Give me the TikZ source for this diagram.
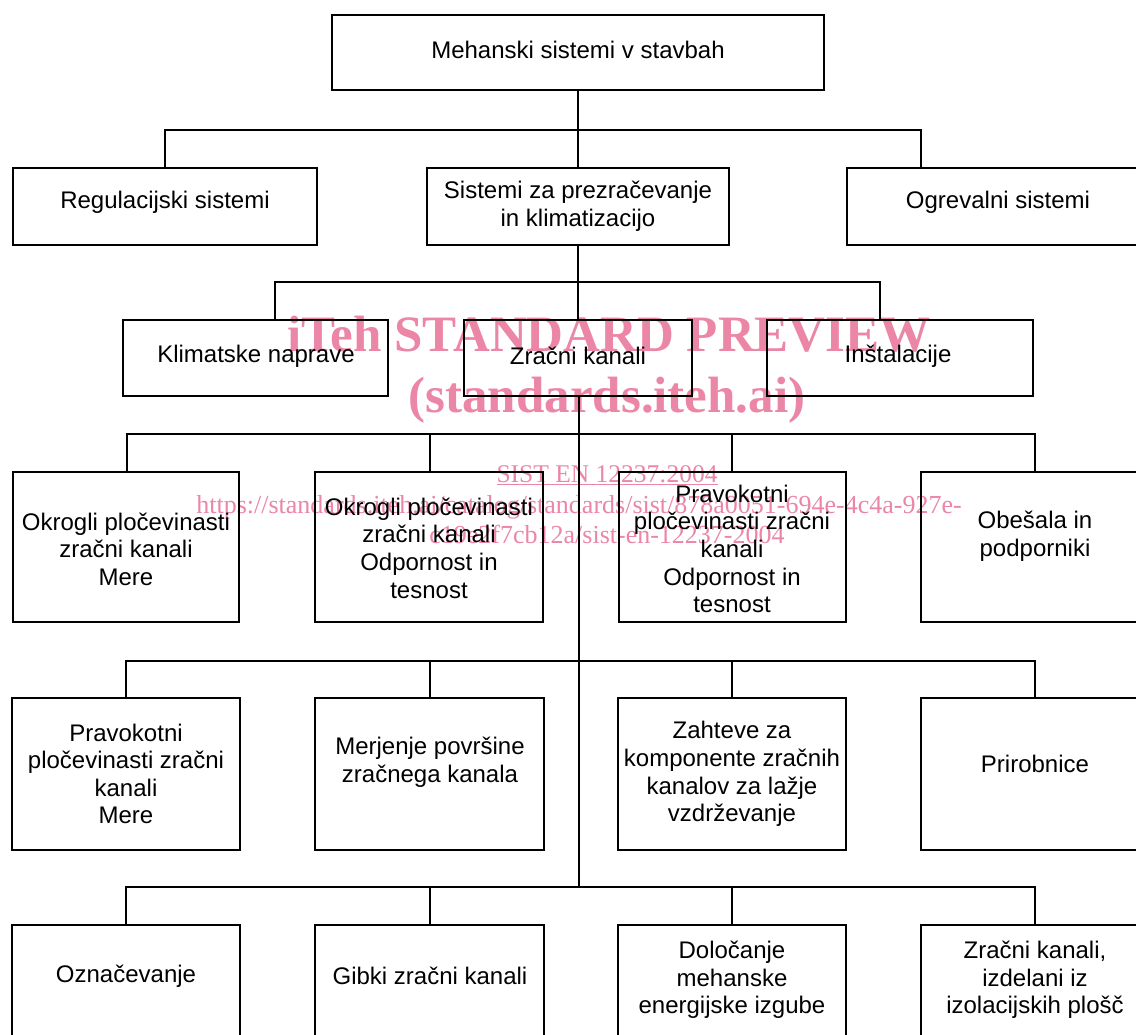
\documentclass[tikz,border=0pt]{standalone}
\usepackage{fontspec}
\setmainfont{Liberation Sans}
\newfontfamily\wmfont{Liberation Serif}
\definecolor{wmpink}{RGB}{236,134,166}
\tikzset{
  box/.style={draw=black, line width=2.9pt, inner sep=0pt},
  txt/.style={align=center, inner sep=0pt, font=\fontsize{24}{27.6}\selectfont},
  conn/.style={draw=black, line width=2.9pt, line cap=rect},
  wm/.style={text=wmpink, inner sep=0pt, anchor=base},
}
\newcommand{\bx}[5]{% name, left, top, right, bottom
  \node[box, minimum width={(#4-#2)*1pt}, minimum height={(#5-#3)*1pt}] (#1) at ({(#2+#4)/2},{(#3+#5)/2}) {};}
\begin{document}
\begin{tikzpicture}[x=1pt,y=-1pt]
\useasboundingbox (0,0) rectangle (1136,1035);
\clip (0,0) rectangle (1136,1035);
\fill[white] (0,0) rectangle (1136,1035);

% watermark
\node[wm, font=\wmfont\bfseries\fontsize{51}{60}\selectfont] (wm1) at (609,352) {iTeh STANDARD PREVIEW};
\node[wm, font=\wmfont\bfseries\fontsize{51}{60}\selectfont] (wm2) at (607,412) {(standards.iteh.ai)};
\node[wm, font=\wmfont\fontsize{25.5}{30}\selectfont] (wm3) at (607,482) {\underline{SIST EN 12237:2004}};
\node[wm, font=\wmfont\fontsize{26}{30}\selectfont] (wm4) at (579,513) {https://standards.iteh.ai/catalog/standards/sist/878a0051-694e-4c4a-927e-};
\node[wm, font=\wmfont\fontsize{26}{30}\selectfont] (wm5) at (607,543) {c19e2f7cb12a/sist-en-12237-2004};

% boxes
\bx{root}{332}{15}{824}{90}
\bx{reg}{13}{168}{317}{245}
\bx{sis}{427}{168}{729}{245}
\bx{ogr}{847}{168}{1151}{245}
\bx{kli}{123}{320}{388}{396}
\bx{zra}{464}{320}{692}{396}
\bx{ins}{767}{320}{1033}{396}
\bx{a1}{13}{472}{239}{622}
\bx{a2}{315}{472}{543}{622}
\bx{a3}{619}{472}{846}{622}
\bx{a4}{921}{472}{1149}{622}
\bx{b1}{12}{698}{240}{850}
\bx{b2}{315}{698}{544}{850}
\bx{b3}{618}{698}{846}{850}
\bx{b4}{921}{698}{1149}{850}
\bx{c1}{12}{925}{240}{1080}
\bx{c2}{315}{925}{544}{1080}
\bx{c3}{618}{925}{846}{1080}
\bx{c4}{921}{925}{1149}{1080}

% texts
\node[txt] (troot) at (578,50) {Mehanski sistemi v stavbah};
\node[txt] (treg) at (165,202) {Regulacijski sistemi};
\node[txt] (tsis) at (578,206) {Sistemi za prezračevanje\\in klimatizacijo};
\node[txt] (togr) at (998,202) {Ogrevalni sistemi};
\node[txt] (tkli) at (256,356) {Klimatske naprave};
\node[txt] (tzra) at (578,356) {Zračni kanali};
\node[txt] (tins) at (898,356) {Inštalacije};
\node[txt] (ta1) at (126,549) {Okrogli pločevinasti\\zračni kanali\\Mere};
\node[txt] (ta2) at (429,548) {Okrogli pločevinasti\\zračni kanali\\Odpornost in\\tesnost};
\node[txt] (ta3) at (732,549) {Pravokotni\\pločevinasti zračni\\kanali\\Odpornost in\\tesnost};
\node[txt] (ta4) at (1035,536) {Obešala in\\podporniki};
\node[txt] (tb1) at (126,774) {Pravokotni\\pločevinasti zračni\\kanali\\Mere};
\node[txt] (tb2) at (430,762) {Merjenje površine\\zračnega kanala};
\node[txt] (tb3) at (732,774) {Zahteve za\\komponente zračnih\\kanalov za lažje\\vzdrževanje};
\node[txt] (tb4) at (1035,764) {Prirobnice};
\node[txt] (tc1) at (126,976) {Označevanje};
\node[txt] (tc2) at (430,976) {Gibki zračni kanali};
\node[txt] (tc3) at (732,980) {Določanje\\mehanske\\energijske izgube};
\node[txt] (tc4) at (1035,980) {Zračni kanali,\\izdelani iz\\izolacijskih plošč};

% bus coordinates
\coordinate (b1l) at (165,130);
\coordinate (b1m) at (578,130);
\coordinate (b1r) at (921,130);
\coordinate (b2l) at (275,282);
\coordinate (b2m) at (578,282);
\coordinate (b2r) at (880,282);
\coordinate (b3l) at (127,434);
\coordinate (b3m) at (579,434);
\coordinate (b3r) at (1035,434);
\coordinate (b4l) at (126,661);
\coordinate (b4m) at (579,661);
\coordinate (b4r) at (1035,661);
\coordinate (b5l) at (126,887);
\coordinate (b5m) at (579,887);
\coordinate (b5r) at (1035,887);

% connectors
\draw[conn] (root.south -| b1m) -- (sis.north -| b1m);
\draw[conn] (reg.north) -- (b1l) -- (b1r) -- (b1r |- ogr.north);
\draw[conn] (sis.south -| b2m) -- (zra.north -| b2m);
\draw[conn] (b2l |- kli.north) -- (b2l) -- (b2r) -- (b2r |- ins.north);
\draw[conn] (zra.south -| b3m) -- (b5m);
\draw[conn] (a1.north -| b3l) -- (b3l) -- (b3r) -- (b3r |- a4.north);
\draw[conn] (430,434) -- (a2.north -| 430,0);
\draw[conn] (732,434) -- (a3.north -| 732,0);
\draw[conn] (b1.north -| b4l) -- (b4l) -- (b4r) -- (b4r |- b4.north);
\draw[conn] (430,661) -- (b2.north -| 430,0);
\draw[conn] (732,661) -- (b3.north -| 732,0);
\draw[conn] (c1.north -| b5l) -- (b5l) -- (b5r) -- (b5r |- c4.north);
\draw[conn] (430,887) -- (c2.north -| 430,0);
\draw[conn] (732,887) -- (c3.north -| 732,0);
\end{tikzpicture}
\end{document}
